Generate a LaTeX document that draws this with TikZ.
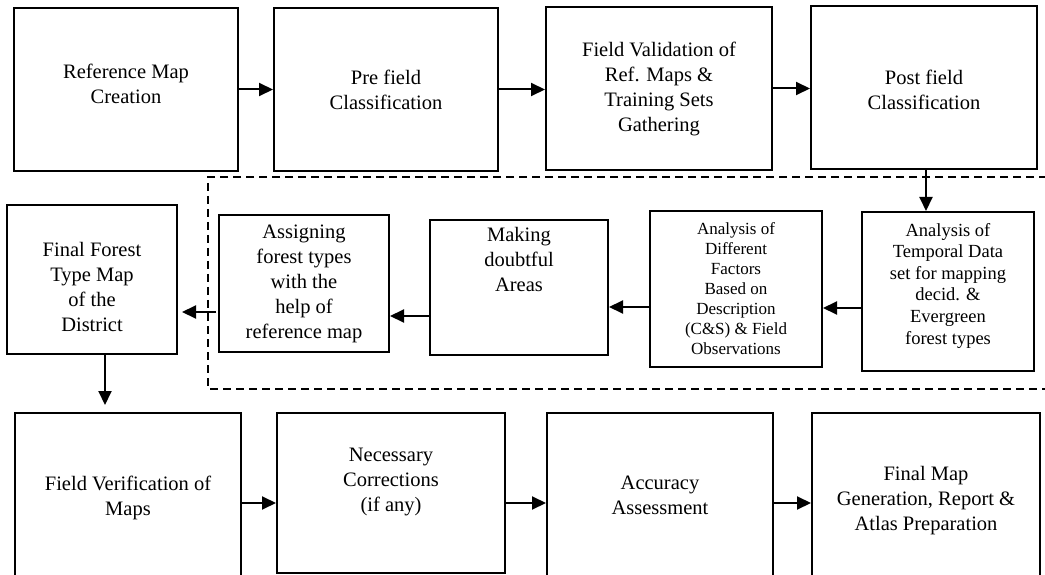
\documentclass[tikz,border=0pt]{standalone}
\usepackage{fontspec}
\setmainfont{Liberation Serif}
\usetikzlibrary{arrows.meta}

\tikzset{
  box/.style={draw, line width=2pt, inner sep=0pt},
  txt/.style={align=center, inner sep=0pt, font=\fontsize{20.5}{25}\selectfont},
  smalltxt/.style={align=center, inner sep=0pt, font=\fontsize{17}{20}\selectfont},
  midtxt/.style={align=center, inner sep=0pt, font=\fontsize{18.5}{21.6}\selectfont},
  flow/.style={line width=2pt, -{Triangle[length=14pt,width=13pt]}},
  dashline/.style={line width=2pt, dash pattern=on 8pt off 5pt},
}

\begin{document}
\begin{tikzpicture}[x=1pt, y=-1pt]
  \useasboundingbox (0,0) rectangle (1045,575);
  \fill[white] (0,0) rectangle (1045,575);
  \clip (0,0) rectangle (1045,575);

  % top row
  \node[box, minimum width=224pt, minimum height=163pt] (refmap) at (126,89.5) {};
  \node[txt] (refmap-t) at ([yshift=5.5pt]refmap.center) {Reference Map\\Creation};
  \node[box, minimum width=224pt, minimum height=163pt] (prefield) at (386,89.5) {};
  \node[txt] (prefield-t) at (prefield.center) {Pre field\\Classification};
  \node[box, minimum width=226pt, minimum height=163pt] (fieldval) at (659,88.5) {};
  \node[txt] (fieldval-t) at (fieldval.center) {Field Validation of\\Ref. Maps \&\\Training Sets\\Gathering};
  \node[box, minimum width=226pt, minimum height=163pt] (postfield) at (924,87.5) {};
  \node[txt] (postfield-t) at ([yshift=-2pt]postfield.center) {Post field\\Classification};

  % middle row
  \node[box, minimum width=170pt, minimum height=149pt] (finalmap) at (92,279.5) {};
  \node[txt] (finalmap-t) at ([yshift=-7pt]finalmap.center) {Final Forest\\Type Map\\of the\\District};
  \node[box, minimum width=170pt, minimum height=137pt] (assign) at (304,283.5) {};
  \node[txt] (assign-t) at (assign.center) {Assigning\\forest types\\with the\\help of\\reference map};
  \node[box, minimum width=178pt, minimum height=135pt] (doubtful) at (519,287.5) {};
  \node[txt] (doubtful-t) at ([yshift=28pt]doubtful.center) {Making\\doubtful\\Areas};
  \node[box, minimum width=172pt, minimum height=156pt] (factors) at (736,289) {};
  \node[smalltxt] (factors-t) at (factors.center) {Analysis of\\Different\\Factors\\Based on\\Description\\(C\&S) \& Field\\Observations};
  \node[box, minimum width=172pt, minimum height=159pt] (temporal) at (948,291.5) {};
  \node[midtxt] (temporal-t) at ([yshift=6pt]temporal.center) {Analysis of\\Temporal Data\\set for mapping\\decid. \&\\Evergreen\\forest types};

  % bottom row
  \node[box, minimum width=226pt, minimum height=168pt] (fieldver) at (128,497) {};
  \node[txt] (fieldver-t) at ([yshift=-1pt]fieldver.center) {Field Verification of\\Maps};
  \node[box, minimum width=228pt, minimum height=160pt] (corrections) at (391,493) {};
  \node[txt] (corrections-t) at ([yshift=11pt]corrections.center) {Necessary\\Corrections\\(if any)};
  \node[box, minimum width=226pt, minimum height=168pt] (accuracy) at (660,497) {};
  \node[txt] (accuracy-t) at ([yshift=2pt]accuracy.center) {Accuracy\\Assessment};
  \node[box, minimum width=228pt, minimum height=168pt] (finalgen) at (926,497) {};
  \node[txt] (finalgen-t) at ([yshift=-4pt]finalgen.center) {Final Map\\Generation, Report \&\\Atlas Preparation};

  % dashed frame round the analysis steps
  \draw[dashline] (1060,177) -| (208,389) -- (1060,389);

  % connectors
  \draw[flow] (refmap.east) -- (prefield.west);
  \draw[flow] (prefield.east) -- (prefield.east -| fieldval.west);
  \draw[flow] (fieldval.east) -- (fieldval.east -| postfield.west);
  \draw[flow] ([xshift=2pt]postfield.south) -- ([xshift=2pt]postfield.south |- temporal.north);
  \draw[flow] ([yshift=-16.5pt]temporal.west) -- ([yshift=-16.5pt]temporal.west -| factors.east);
  \draw[flow] ([yshift=-18pt]factors.west) -- ([yshift=-18pt]factors.west -| doubtful.east);
  \draw[flow] ([yshift=-28.5pt]doubtful.west) -- ([yshift=-28.5pt]doubtful.west -| assign.east);
  \draw[flow, shorten >=4pt] ([yshift=-28.5pt,xshift=-2pt]assign.west) -- ([yshift=-28.5pt]assign.west -| finalmap.east);
  \draw[flow, shorten >=7pt] ([xshift=13pt]finalmap.south) -- ([xshift=13pt]finalmap.south |- fieldver.north);
  \draw[flow] ([yshift=-6pt]fieldver.east) -- ([yshift=-6pt]fieldver.east -| corrections.west);
  \draw[flow] ([yshift=-10pt]corrections.east) -- ([yshift=-10pt]corrections.east -| accuracy.west);
  \draw[flow] ([yshift=-6pt]accuracy.east) -- ([yshift=-6pt]accuracy.east -| finalgen.west);
\end{tikzpicture}
\end{document}
